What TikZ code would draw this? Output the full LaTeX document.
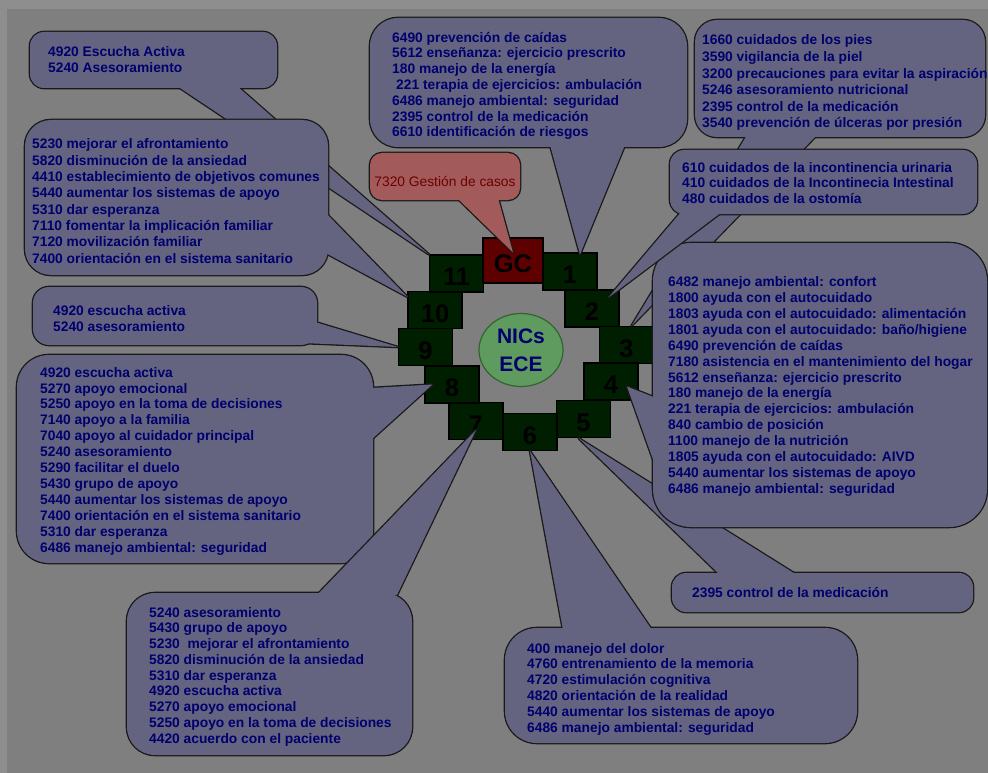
\documentclass[tikz,border=0pt]{standalone}
\usepackage{fontspec}
\setmainfont{Liberation Sans}
\usetikzlibrary{shapes.geometric,calc}

\definecolor{bggray}{RGB}{127,127,127}
\definecolor{framegray}{RGB}{142,142,142}
\definecolor{bubblefill}{RGB}{100,100,128}
\definecolor{bubbleline}{RGB}{25,25,25}
\definecolor{bubbletext}{RGB}{0,0,110}
\definecolor{redfill}{RGB}{162,90,90}
\definecolor{redtext}{RGB}{110,0,0}
\definecolor{boxgreen}{RGB}{0,30,0}
\definecolor{gcred}{RGB}{95,0,0}
\definecolor{ellfill}{RGB}{95,155,95}
\definecolor{ellline}{RGB}{50,100,50}

% lists sit on the baseline of their last line
\tikzset{
  lst/.style={anchor=base west, align=left, inner sep=0pt, text=bubbletext,
    font=\bfseries\fontsize{13.8}{#1}\selectfont},
  lst/.default=16,
}

% #1 fill, #2 radius, #3/#4 corners, #5/#6 wedge base, #7 tip
\newcommand{\bubble}[7]{%
  \draw[line width=2.6pt, draw=bubbleline, line join=round] #5 -- #7 -- #6 -- cycle;
  \draw[line width=2.6pt, draw=bubbleline, rounded corners=#2] #3 rectangle #4;
  \fill[#1] #5 -- #7 -- #6 -- cycle;
  \fill[#1, rounded corners=#2] #3 rectangle #4;
}

\begin{document}
\begin{tikzpicture}[x=1pt,y=-1pt]
        \fill[framegray] (0,0) rectangle (988,773);
        \fill[bggray] (7,9) rectangle (988,773);
        \useasboundingbox (0,0) rectangle (988,773);

        \begin{scope}[every node/.style={draw=black,line width=1.2pt,fill=boxgreen,
            minimum width=54pt,minimum height=37pt,inner sep=0pt,
            text height=24pt,text depth=0pt,font=\bfseries\fontsize{25.5}{26}\selectfont}]
          \node at (570,271.5) (b1){1};
          \node at (592,308.5) (b2){2};
          \node at (626.5,345) (b3){3};
          \node at (611,381.5) (b4){4};
          \node at (583.5,419) (b5){5};
          \node at (530,432) (b6){6};
          \node at (476,421) (b7){7};
          \node at (452,384.5) (b8){8};
          \node at (425.5,347) (b9){9};
          \node at (435,310) (b10){10};
          \node at (456.5,273.5) (b11){11};
          \node[fill=gcred,minimum width=60pt,minimum height=45pt] at (513,260.5) (gc){GC};
        \end{scope}

        \node[ellipse,draw=ellline,line width=1.2pt,fill=ellfill,minimum width=84pt,
          minimum height=73pt,inner sep=0pt,align=center,text=bubbletext,
          font=\bfseries\fontsize{21}{28}\selectfont] at (521,350) (nics){NICs\\ECE};

        \bubble{bubblefill}{14pt}{(30,32)}{(277,88)}{(177,86)}{(237,86)}{(b11.north west)}
        \node[lst] at (48,73) (lst11){4920 Escucha Activa\\5240 Asesoramiento};

        \bubble{bubblefill}{26pt}{(25,120)}{(328,275)}{(326,213)}{(320,250)}{([yshift=-6pt]b10.north west)}
        \node[lst=16.3] at (32,263) (lst10){5230 mejorar el afrontamiento\\5820 disminución de la ansiedad\\4410 establecimiento de objetivos comunes\\5440 aumentar los sistemas de apoyo\\5310 dar esperanza\\7110 fomentar la implicación familiar\\7120 movilización familiar\\7400 orientación en el sistema sanitario};

        \bubble{bubblefill}{16pt}{(33,287)}{(317,345)}{(315,322)}{(302,343)}{(b9.west)}
        \node[lst] at (53,331) (lst9){4920 escucha activa\\5240 asesoramiento};

        \bubble{bubblefill}{32pt}{(17,355)}{(373,563)}{(371,388)}{(371,440)}{([xshift=8pt]b8.west)}
        \node[lst=15.9] at (40,552) (lst8){4920 escucha activa\\5270 apoyo emocional\\5250 apoyo en la toma de decisiones\\7140 apoyo a la familia\\7040 apoyo al cuidador principal\\5240 asesoramiento\\5290 facilitar el duelo\\5430 grupo de apoyo\\5440 aumentar los sistemas de apoyo\\7400 orientación en el sistema sanitario\\5310 dar esperanza\\6486 manejo ambiental: seguridad};

        \bubble{bubblefill}{28pt}{(127,593)}{(412,755)}{(317,595)}{(397,595)}{([yshift=-9pt]b7.center)}
        \node[lst=15.75] at (149,743) (lst7){5240 asesoramiento\\5430 grupo de apoyo\\5230\hspace{4pt} mejorar el afrontamiento\\5820 disminución de la ansiedad\\5310 dar esperanza\\4920 escucha activa\\5270 apoyo emocional\\5250 apoyo en la toma de decisiones\\4420 acuerdo con el paciente};

        \bubble{bubblefill}{32pt}{(505,628)}{(857,743)}{(563,630)}{(652,630)}{(b6.south)}
        \node[lst=15.8] at (527,732) (lst6){400 manejo del dolor\\4760 entrenamiento de la memoria\\4720 estimulación cognitiva\\4820 orientación de la realidad\\5440 aumentar los sistemas de apoyo\\6486 manejo ambiental: seguridad};

        \bubble{bubblefill}{14pt}{(672,573)}{(973,612)}{(720,575)}{(797,575)}{([xshift=-5pt]b5.south)}
        \node[lst] at (692,597) (lst5){2395 control de la medicación};

        \bubble{bubblefill}{22pt}{(695,20)}{(985,137)}{(747,135)}{(817,135)}{([xshift=5pt]b3.north)}
        \node[lst=16.6] at (702,128) (lst3){1660 cuidados de los pies\\3590 vigilancia de la piel\\3200 precauciones para evitar la aspiración\\5246 asesoramiento nutricional\\2395 control de la medicación\\3540 prevención de úlceras por presión};

        \bubble{bubblefill}{38pt}{(653,243)}{(987,527)}{(656,398)}{(656,468)}{([xshift=16pt,yshift=-5pt]b4.center)}
        \node[lst=15.85] at (668,493) (lst4){6482 manejo ambiental: confort\\1800 ayuda con el autocuidado\\1803 ayuda con el autocuidado: alimentación\\1801 ayuda con el autocuidado: baño/higiene\\6490 prevención de caídas\\7180 asistencia en el mantenimiento del hogar\\5612 enseñanza: ejercicio prescrito\\180 manejo de la energía\\221 terapia de ejercicios: ambulación\\840 cambio de posición\\1100 manejo de la nutrición\\1805 ayuda con el autocuidado: AIVD\\5440 aumentar los sistemas de apoyo\\6486 manejo ambiental: seguridad};

        \bubble{bubblefill}{14pt}{(670,150)}{(977,214)}{(681,212)}{(722,212)}{([xshift=-11pt,yshift=-8pt]b2.north east)}
        \node[lst=15.5] at (682,203) (lst2){610 cuidados de la incontinencia urinaria\\410 cuidados de la Incontinecia Intestinal\\480 cuidados de la ostomía};

        \bubble{bubblefill}{28pt}{(370,18)}{(687,147)}{(550,145)}{(625,145)}{([xshift=10pt,yshift=-2pt]b1.north)}
        \node[lst=15.8] at (392,137) (lst1){6490 prevención de caídas\\5612 enseñanza: ejercicio prescrito\\180 manejo de la energía\\\hspace{4pt}221 terapia de ejercicios: ambulación\\6486 manejo ambiental: seguridad\\2395 control de la medicación\\6610 identificación de riesgos};

        \bubble{redfill}{12pt}{(370,153)}{(520,200)}{(457,198)}{(498,198)}{([yshift=8pt]gc.center)}
        \node[anchor=base,inner sep=0pt,text=redtext,font=\fontsize{13.8}{16}\selectfont] at (445,186) (lstgc){7320 Gestión de casos};
      \end{tikzpicture}
\end{document}
